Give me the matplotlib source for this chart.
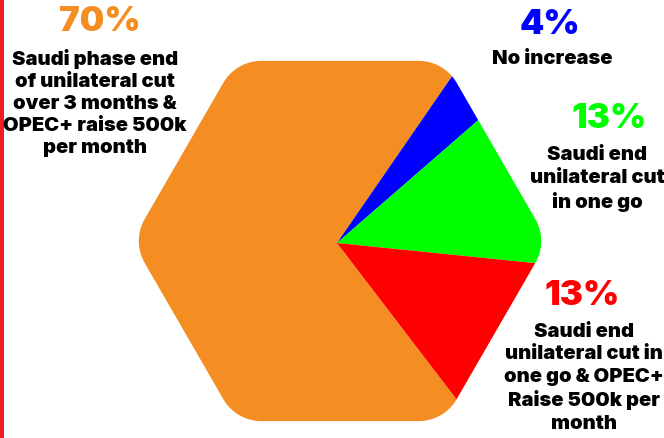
import numpy as np
import matplotlib
matplotlib.use("Agg")
import matplotlib.pyplot as plt
from matplotlib.patches import Rectangle
from matplotlib.path import Path

W, H = 664, 439

# survey shares, in drawing order (clockwise)
shares = [70, 4, 13, 13]
pct_labels = ["70%", "4%", "13%", "13%"]
descriptions = [
    "Saudi phase end\nof unilateral cut\nover 3 months &\nOPEC+ raise 500k\nper month",
    "No increase",
    "Saudi end\nunilateral cut\nin one go",
    "Saudi end\nunilateral cut in\none go & OPEC+\nRaise 500k per\nmonth",
]
colors = ["#F58E22", "#0000FF", "#00FF00", "#FF0000"]

FONT = "Inter"

# label placement in pixels from top-left: (pct x, pct y, text x, text y)
label_pos = [
    (100, 22, 95, 103),
    (550, 25, 552, 59),
    (609, 119, 597, 179),
    (582, 296, 584, 378),
]


def rounded_hexagon(cx, cy, R, r, n=20):
    pts = []
    d = R - r / np.sin(np.radians(60))
    for k in range(6):
        theta = np.radians(60 * k)
        ax_, ay_ = cx + d * np.cos(theta), cy + d * np.sin(theta)
        for a in np.linspace(theta - np.radians(30), theta + np.radians(30), n):
            pts.append((ax_ + r * np.cos(a), ay_ + r * np.sin(a)))
    pts.append(pts[0])
    return np.array(pts)


fig = plt.figure(figsize=(W / 100, H / 100), dpi=100)
ax = fig.add_axes([0, 0, 1, 1])

pie_cx, pie_cy = 337, H - 244
wedges, _ = ax.pie(
    shares,
    colors=colors,
    startangle=-52.6,
    counterclock=False,
    radius=260,
    center=(pie_cx, pie_cy),
    wedgeprops=dict(linewidth=0),
)

ax.set_xlim(0, W)
ax.set_ylim(0, H)
ax.set_aspect("auto")
ax.axis("off")

# pie() turns clipping off, so switch it back on for the hexagon shape
hex_path = Path(rounded_hexagon(340, H - 242, 208, 44), closed=True)
for w in wedges:
    w.set_clip_on(True)
    w.set_clip_path(hex_path, ax.transData)

# red accent bar on the left edge
ax.add_patch(Rectangle((0, 0), 3.5, H, facecolor="#EE1C25", edgecolor="none"))

for (px, py, tx, ty), pct, desc, col in zip(label_pos, pct_labels, descriptions, colors):
    ax.text(px, H - py, pct, color=col, fontsize=25, fontweight=900,
            family=FONT, ha="center", va="center")
    ax.text(tx, H - ty, desc, color="black", fontsize=14.5, fontweight=900,
            family=FONT, ha="center", va="center", linespacing=1.3)

fig.savefig("out.png", dpi=100)
